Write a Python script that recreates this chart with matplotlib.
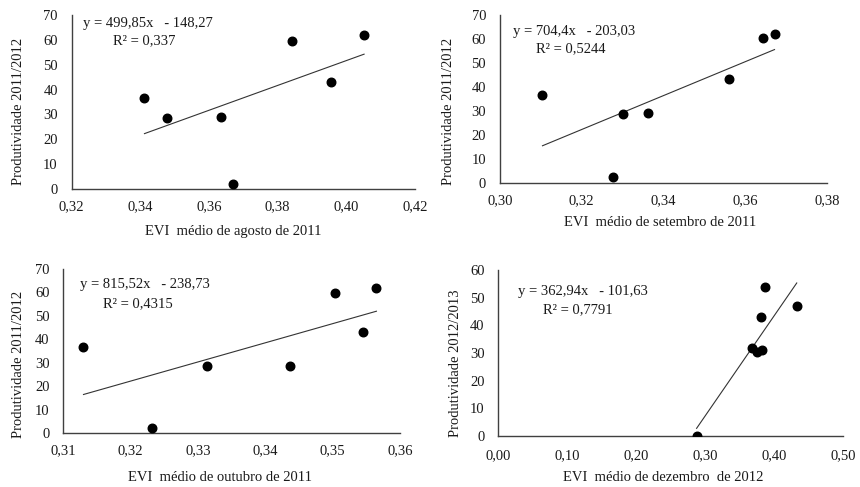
import numpy as np
import matplotlib
matplotlib.use("Agg")
from matplotlib import pyplot as plt

plt.rcParams["font.family"] = ["Liberation Serif", "DejaVu Serif"]

# Panel data
evi_ago_2011 = [0.3412, 0.3479, 0.3635, 0.3670, 0.3841, 0.3955, 0.4052]
prod_ago = [36.5, 28.7, 29.1, 2.1, 59.7, 43.2, 62.0]

evi_set_2011 = [0.3104, 0.3276, 0.3302, 0.3362, 0.3561, 0.3643, 0.3672]
prod_set = [36.6, 2.8, 28.7, 29.1, 43.4, 60.4, 62.2]

evi_out_2011 = [0.3130, 0.3232, 0.3313, 0.3437, 0.3504, 0.3545, 0.3565]
prod_out = [36.6, 2.4, 28.8, 28.8, 59.9, 43.3, 61.9]

evi_dez_2012 = [0.2874, 0.3672, 0.3745, 0.3817, 0.3803, 0.3865, 0.4325]
prod_dez = [0.0, 31.8, 30.4, 31.0, 43.1, 54.0, 47.0]

# trend line coefficients and labels as printed on the chart
fits = [(499.85, -148.27, "y = 499,85x   - 148,27", "R² = 0,337"),
        (704.4, -203.03, "y = 704,4x   - 203,03", "R² = 0,5244"),
        (815.52, -238.73, "y = 815,52x   - 238,73", "R² = 0,4315"),
        (362.94, -101.63, "y = 362,94x   - 101,63", "R² = 0,7791")]

xlabels = ["EVI  médio de agosto de 2011", "EVI  médio de setembro de 2011",
           "EVI  médio de outubro de 2011", "EVI  médio de dezembro  de 2012"]
ylabels = ["Produtividade 2011/2012", "Produtividade 2011/2012",
           "Produtividade 2011/2012", "Produtividade 2012/2013"]

xticks = [[0.32, 0.34, 0.36, 0.38, 0.40, 0.42],
          [0.30, 0.32, 0.34, 0.36, 0.38],
          [0.31, 0.32, 0.33, 0.34, 0.35, 0.36],
          [0.0, 0.1, 0.2, 0.3, 0.4, 0.5]]
yticks = [list(range(0, 71, 10))] * 3 + [list(range(0, 61, 10))]

xs = [evi_ago_2011, evi_set_2011, evi_out_2011, evi_dez_2012]
ys = [prod_ago, prod_set, prod_out, prod_dez]

# axes rectangles in figure fraction
rects = [[0.0834, 0.612, 0.399, 0.357],
         [0.5814, 0.6236, 0.380, 0.3456],
         [0.0736, 0.1103, 0.3915, 0.3374],
         [0.5794, 0.1053, 0.4012, 0.340]]
eq_pos = [((0.032, 0.954), (0.119, 0.852)),
          ((0.039, 0.900), (0.110, 0.802)),
          ((0.050, 0.903), (0.119, 0.791)),
          ((0.058, 0.869), (0.130, 0.763))]
xlab_pos = [(0.47, -0.205), (0.49, -0.195), (0.465, -0.232), (0.477, -0.215)]
ylab_pos = [(-0.136, 0.448), (-0.137, 0.425), (-0.113, 0.416), (-0.105, 0.437)]
xpad = [8, 8, 8, 10]

fig = plt.figure(figsize=(8.6, 4.87), dpi=100)
txt = "#1a1a1a"
for i in range(4):
    ax = fig.add_axes(rects[i])
    x = np.array(xs[i])
    ax.scatter(x, ys[i], s=38, color="black", zorder=3)
    m, b, eq, r2 = fits[i]
    lx = np.array([x.min(), x.max()])
    ax.plot(lx, m * lx + b, color="#333333", lw=0.8)
    ax.set_xlim(xticks[i][0], xticks[i][-1])
    ax.set_ylim(0, yticks[i][-1])
    ax.set_xticks(xticks[i])
    ax.set_xticklabels([f"{v:.2f}".replace(".", ",") for v in xticks[i]])
    ax.set_yticks(yticks[i])
    for s in ["top", "right"]:
        ax.spines[s].set_visible(False)
    for s in ["left", "bottom"]:
        ax.spines[s].set_color("#404040")
        ax.spines[s].set_linewidth(1.0)
    ax.tick_params(length=0, labelsize=10.5, colors=txt)
    ax.tick_params(axis="y", pad=10)
    ax.tick_params(axis="x", pad=xpad[i])
    ax.set_xlabel(xlabels[i], fontsize=10.5, color=txt)
    ax.set_ylabel(ylabels[i], fontsize=10.5, color=txt)
    ax.xaxis.set_label_coords(*xlab_pos[i])
    ax.yaxis.set_label_coords(*ylab_pos[i])
    ax.text(*eq_pos[i][0], eq, transform=ax.transAxes, fontsize=10.5,
            color=txt, va="center", ha="left")
    ax.text(*eq_pos[i][1], r2, transform=ax.transAxes, fontsize=10.5,
            color=txt, va="center", ha="left")

fig.savefig("out.png", dpi=100)
